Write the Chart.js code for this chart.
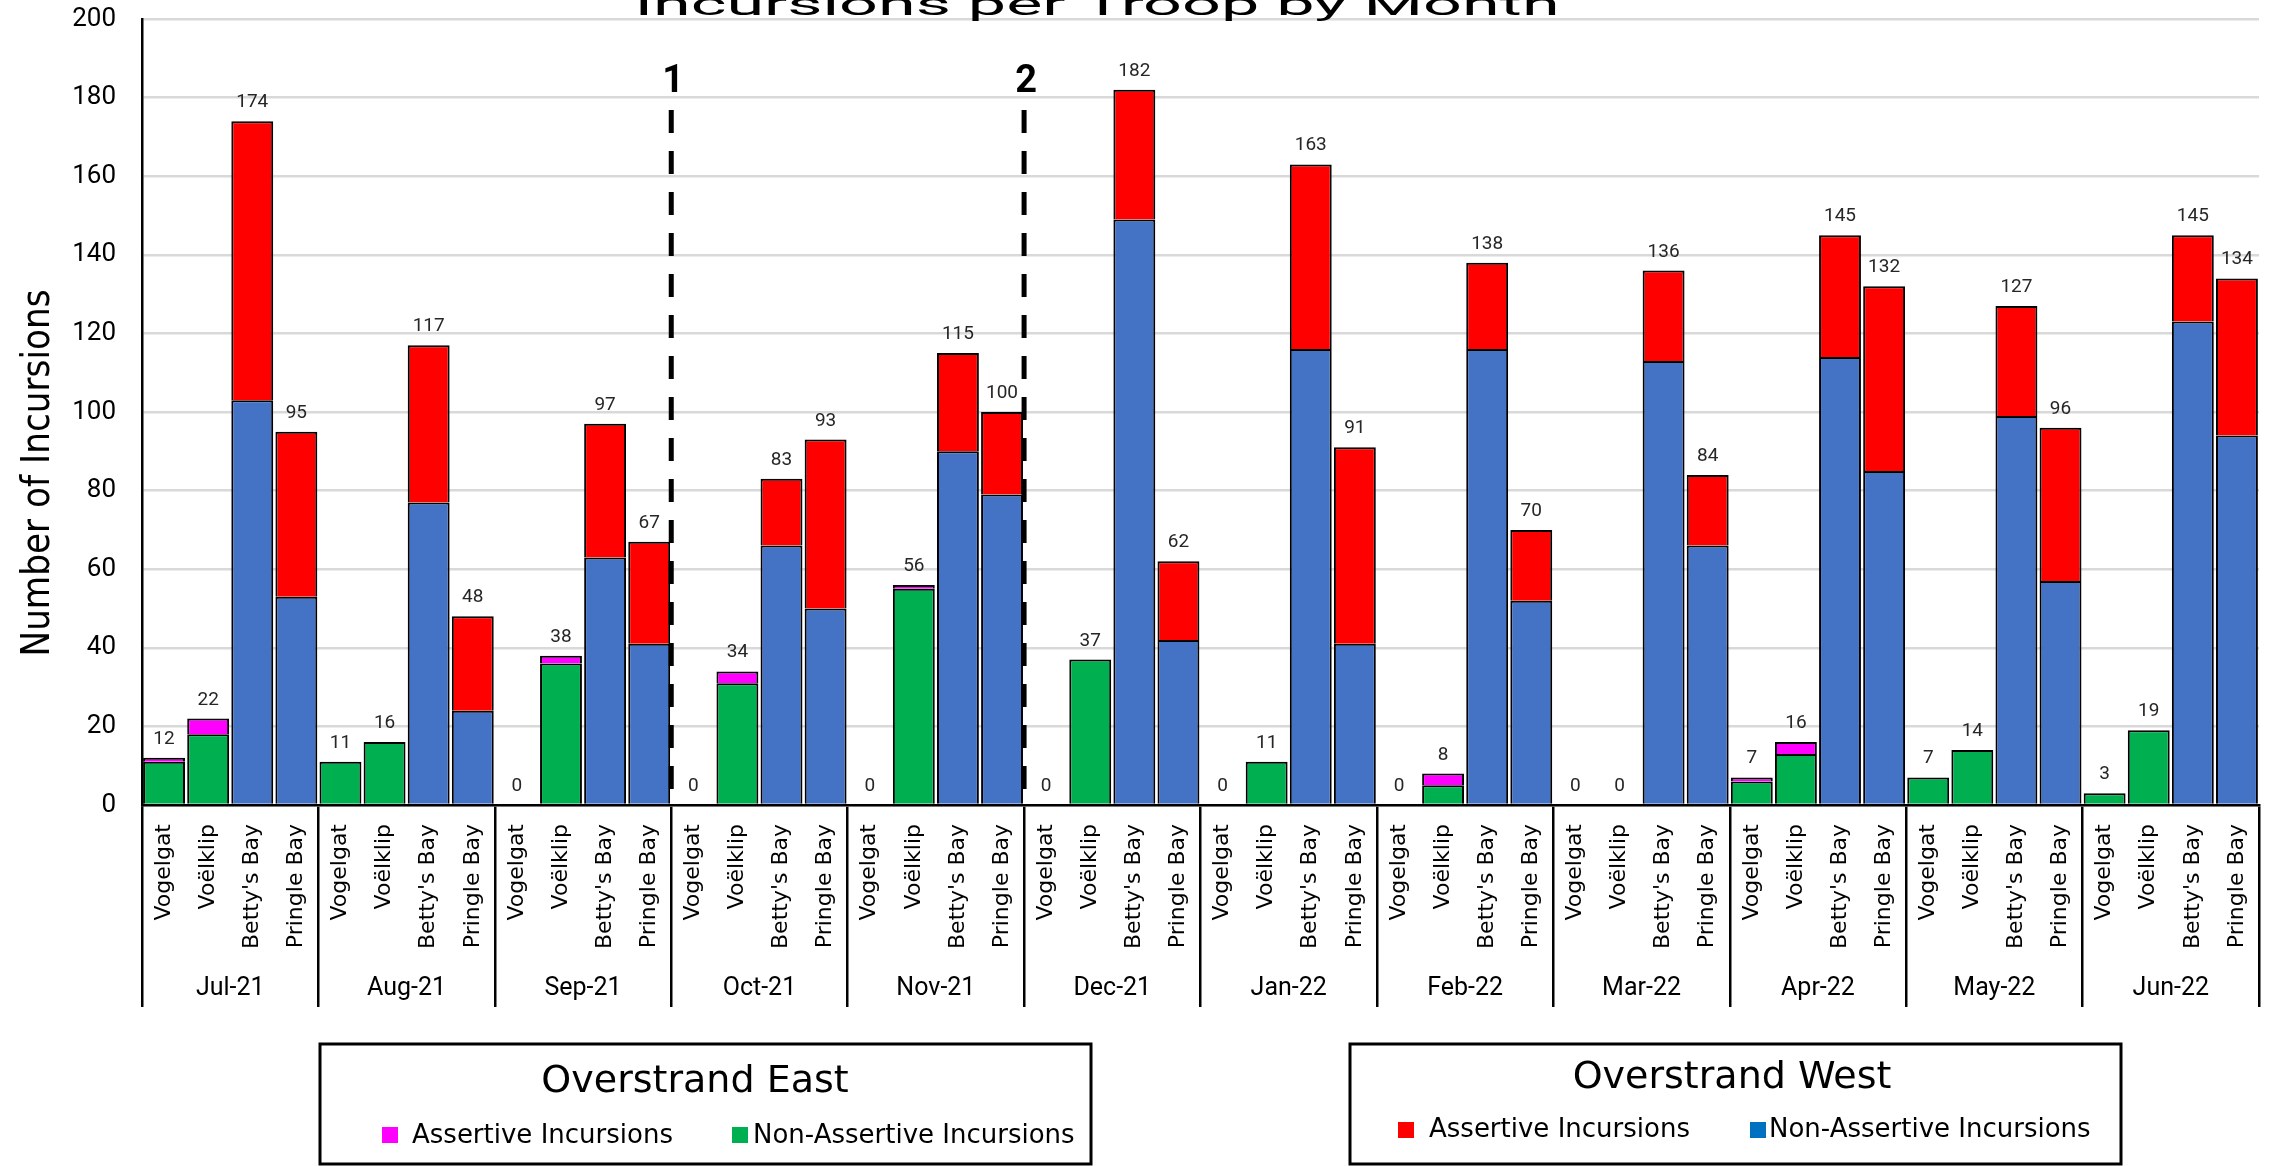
<!DOCTYPE html>
<html>
<head>
<meta charset="utf-8">
<script src="https://cdn.jsdelivr.net/npm/chart.js@4.4.0/dist/chart.umd.min.js"></script>
<style>
  html, body { margin: 0; padding: 0; background: #fff; }
  #wrap { width: 2278px; height: 1166px; }
</style>
</head>
<body>
<div id="wrap"><canvas id="c" width="2278" height="1166"></canvas></div>
<script>
// Months and troops on the two-level category axis
const months = ['Jul-21', 'Aug-21', 'Sep-21', 'Oct-21', 'Nov-21', 'Dec-21',
                'Jan-22', 'Feb-22', 'Mar-22', 'Apr-22', 'May-22', 'Jun-22'];
const troops = ['Vogelgat', 'Voëlklip', "Betty's Bay", 'Pringle Bay'];

// Overstrand East troops (per month)
const vogelgatNonAssertive = [11, 11, 0, 0, 0, 0, 0, 0, 0, 6, 7, 3];
const vogelgatAssertive    = [1, 0, 0, 0, 0, 0, 0, 0, 0, 1, 0, 0];
const voelklipNonAssertive = [18, 16, 36, 31, 55, 37, 11, 5, 0, 13, 14, 19];
const voelklipAssertive    = [4, 0, 2, 3, 1, 0, 0, 3, 0, 3, 0, 0];

// Overstrand West troops (per month)
const bettysNonAssertive  = [103, 77, 63, 66, 90, 149, 116, 116, 113, 114, 99, 123];
const bettysAssertive     = [71, 40, 34, 17, 25, 33, 47, 22, 23, 31, 28, 22];
const pringleNonAssertive = [53, 24, 41, 50, 79, 42, 41, 52, 66, 85, 57, 94];
const pringleAssertive    = [42, 24, 26, 43, 21, 20, 50, 18, 18, 47, 39, 40];

// Value axis
const yMin = 0, yMax = 200, yStep = 20;

// Management interventions, marked after these months
const markers = [{ after: 'Sep-21', label: '1' }, { after: 'Nov-21', label: '2' }];

// Build the flat 48-category layout (month x troop)
const labels = [];
const eastNon = [], eastAss = [], westNon = [], westAss = [];
months.forEach((m, i) => {
  labels.push(...troops);
  eastNon.push(vogelgatNonAssertive[i], voelklipNonAssertive[i], null, null);
  eastAss.push(vogelgatAssertive[i], voelklipAssertive[i], null, null);
  westNon.push(null, null, bettysNonAssertive[i], pringleNonAssertive[i]);
  westAss.push(null, null, bettysAssertive[i], pringleAssertive[i]);
});

const barStyle = {
  borderColor: '#000',
  borderWidth: 2,
  borderSkipped: 'start',
  barPercentage: 0.95,
  categoryPercentage: 1.0,
  stack: 'all'
};

// Totals written above each bar
const totalsPlugin = {
  id: 'totals',
  afterDatasetsDraw(chart) {
    const { ctx, scales: { x, y } } = chart;
    ctx.save();
    ctx.font = '19px Roboto';
    ctx.fillStyle = '#262626';
    ctx.textAlign = 'center';
    ctx.textBaseline = 'alphabetic';
    labels.forEach((_, i) => {
      let total = 0;
      chart.data.datasets.forEach(ds => { if (ds.data[i] != null) total += ds.data[i]; });
      ctx.fillText(String(total), x.getPixelForTick(i), y.getPixelForValue(total) - 14);
    });
    ctx.restore();
  }
};

// Dashed intervention lines at month boundaries
const markerPlugin = {
  id: 'markers',
  afterDatasetsDraw(chart) {
    const { ctx, scales: { x }, chartArea } = chart;
    ctx.save();
    markers.forEach(mk => {
      const idx = (months.indexOf(mk.after) + 1) * troops.length;
      const px = (x.getPixelForTick(idx - 1) + x.getPixelForTick(idx)) / 2;
      ctx.strokeStyle = '#000';
      ctx.lineWidth = 5;
      ctx.setLineDash([23, 18]);
      ctx.beginPath();
      ctx.moveTo(px, 110);
      ctx.lineTo(px, chartArea.bottom);
      ctx.stroke();
      ctx.setLineDash([]);
      ctx.font = 'bold 38px Roboto';
      ctx.fillStyle = '#000';
      ctx.textAlign = 'center';
      ctx.textBaseline = 'alphabetic';
      ctx.fillText(mk.label, px + 2, 92);
    });
    ctx.restore();
  }
};

// Title, value-axis title and the two grouped legends
const decorPlugin = {
  id: 'decor',
  afterDraw(chart) {
    const { ctx } = chart;
    ctx.save();
    ctx.fillStyle = '#000';

    // Chart title (sits partly above the canvas edge)
    ctx.font = '31px Roboto';
    ctx.textAlign = 'center';
    ctx.textBaseline = 'alphabetic';
    const title = 'Incursions per Troop by Month';
    const tw = ctx.measureText(title).width;
    ctx.save();
    ctx.translate(1097, 15);
    ctx.scale(925 / tw, 1);
    ctx.fillText(title, 0, 0);
    ctx.restore();

    // Value axis title
    ctx.save();
    ctx.font = '34px "DejaVu Sans"';
    const yt = 'Number of Incursions';
    const yw = ctx.measureText(yt).width;
    ctx.translate(49, 473);
    ctx.rotate(-Math.PI / 2);
    ctx.scale(367 / yw, 1.15);
    ctx.textAlign = 'center';
    ctx.fillText(yt, 0, 0);
    ctx.restore();

    // Grouped legends
    const drawLegend = (box, title, titleX, titleY, items) => {
      ctx.lineWidth = 3;
      ctx.strokeStyle = '#000';
      ctx.strokeRect(box.x, box.y, box.w, box.h);
      ctx.font = '38px "DejaVu Sans"';
      ctx.textAlign = 'center';
      ctx.fillStyle = '#000';
      ctx.fillText(title, titleX, titleY);
      ctx.font = '26px "DejaVu Sans"';
      ctx.textAlign = 'left';
      items.forEach(it => {
        ctx.fillStyle = it.color;
        ctx.fillRect(it.sx, it.sy, 16, 16);
        ctx.fillStyle = '#000';
        ctx.fillText(it.text, it.tx, it.ty, it.tw);
      });
    };
    drawLegend({ x: 320, y: 1044, w: 771, h: 120 }, 'Overstrand East', 695, 1092, [
      { color: '#FF00FF', sx: 382, sy: 1127, text: 'Assertive Incursions', tx: 412, ty: 1143, tw: 264 },
      { color: '#00B050', sx: 732, sy: 1127, text: 'Non-Assertive Incursions', tx: 753, ty: 1143, tw: 329 }
    ]);
    drawLegend({ x: 1350, y: 1044, w: 771, h: 120 }, 'Overstrand West', 1732, 1088, [
      { color: '#FF0000', sx: 1398, sy: 1122, text: 'Assertive Incursions', tx: 1429, ty: 1137, tw: 264 },
      { color: '#0070C0', sx: 1750, sy: 1122, text: 'Non-Assertive Incursions', tx: 1769, ty: 1137, tw: 332 }
    ]);
    ctx.restore();
  }
};

new Chart(document.getElementById('c'), {
  type: 'bar',
  data: {
    labels: labels,
    datasets: [
      Object.assign({ label: 'East Non-Assertive Incursions', data: eastNon, backgroundColor: '#00B050' }, barStyle),
      Object.assign({ label: 'East Assertive Incursions', data: eastAss, backgroundColor: '#FF00FF' }, barStyle),
      Object.assign({ label: 'West Non-Assertive Incursions', data: westNon, backgroundColor: '#4472C4' }, barStyle),
      Object.assign({ label: 'West Assertive Incursions', data: westAss, backgroundColor: '#FF0000' }, barStyle)
    ]
  },
  options: {
    responsive: false,
    animation: false,
    devicePixelRatio: 1,
    layout: { autoPadding: false, padding: { left: 0, right: 19, top: 19, bottom: 159 } },
    plugins: {
      legend: { display: false },
      title: { display: false },
      tooltip: { enabled: false }
    },
    scales: {
      x: {
        stacked: true,
        offset: true,
        weight: 0,
        grid: {
          offset: true,
          drawOnChartArea: false,
          drawTicks: true,
          tickLength: 202,
          lineWidth: 2.5,
          color: c => (c.index === undefined || c.index % troops.length === 0) ? '#000' : 'rgba(0,0,0,0)'
        },
        border: { display: true, color: '#000', width: 2.5 },
        ticks: {
          autoSkip: false,
          minRotation: 90,
          maxRotation: 90,
          padding: -183,
          color: '#000',
          font: { family: 'DejaVu Sans', size: 22 }
        },
        afterFit: s => { s.height = 150; }
      },
      x2: {
        type: 'category',
        position: 'bottom',
        labels: months,
        offset: true,
        weight: 1,
        grid: { display: false, drawTicks: false },
        border: { display: false },
        ticks: {
          autoSkip: false,
          maxRotation: 0,
          padding: 19,
          color: '#000',
          font: { family: 'Roboto', size: 25 }
        },
        afterFit: s => { s.height = 52; }
      },
      y: {
        stacked: true,
        min: yMin,
        max: yMax,
        grid: {
          color: '#d9d9d9',
          lineWidth: 2.5,
          drawTicks: true,
          tickLength: 26,
          tickColor: 'rgba(0,0,0,0)'
        },
        border: { display: true, color: '#000', width: 2.5 },
        ticks: {
          stepSize: yStep,
          padding: 0,
          color: '#000',
          font: { family: 'Roboto', size: 26 }
        },
        afterFit: s => { s.width = 142; }
      }
    }
  },
  plugins: [totalsPlugin, markerPlugin, decorPlugin]
});
</script>
</body>
</html>
